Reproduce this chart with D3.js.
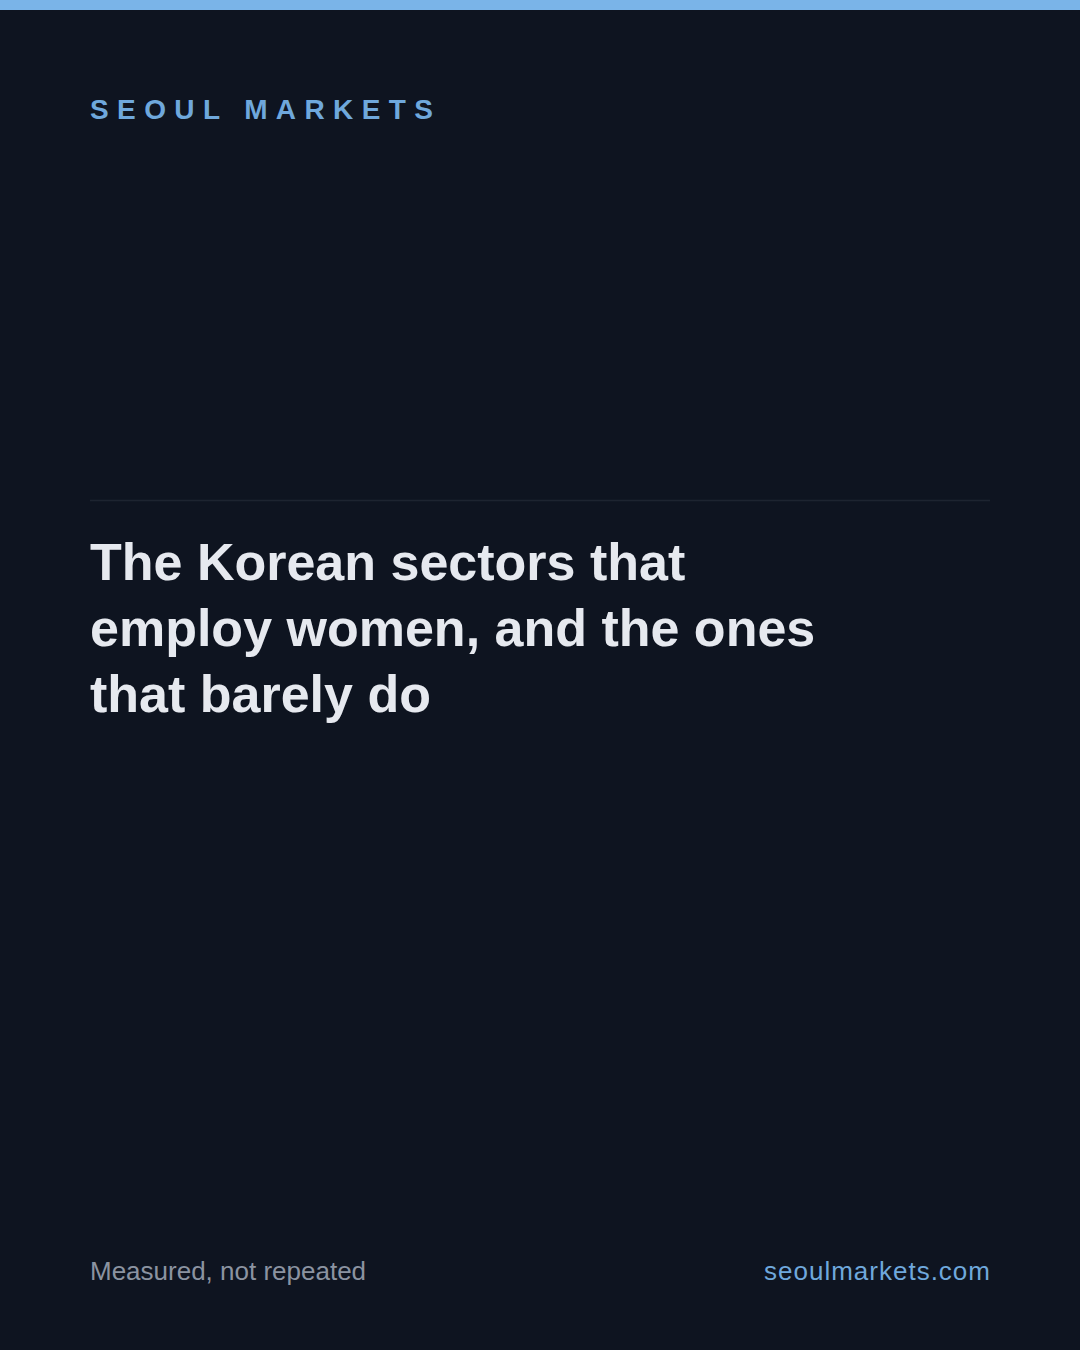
<!DOCTYPE html>
<html>
<head>
<meta charset="utf-8">
<script src="https://cdn.jsdelivr.net/npm/d3@7"></script>
<style>
  html, body { margin: 0; padding: 0; background: #0e1420; }
  svg { display: block; }
</style>
</head>
<body>
<svg width="1080" height="1350"></svg>
<script>
// text content of the card
let brand = "SEOUL MARKETS";
let titleLines = [
    "The Korean sectors that",
    "employ women, and the ones",
    "that barely do"
];
let footerLeft = "Measured, not repeated";
let footerRight = "seoulmarkets.com";

var svg = d3.select("svg"),
width = +svg.attr("width"),
height = +svg.attr("height");

let pad = 90;
let font = "'Liberation Sans', Arial, Helvetica, sans-serif";

svg.append("rect")
    .attr("width", width)
    .attr("height", height)
    .attr("fill", "#0e1420");

// accent bar on top
svg.append("rect")
    .attr("width", width)
    .attr("height", 10)
    .attr("fill", "#7ab4e8");

svg.append("text")
    .attr("x", pad)
    .attr("y", 119)
    .attr("font-family", font)
    .attr("font-size", 28)
    .attr("font-weight", 700)
    .attr("letter-spacing", "8.4px")
    .attr("fill", "#6fa8dc")
    .text(brand);

// thin divider above the title
svg.append("line")
    .attr("x1", pad)
    .attr("x2", width - pad)
    .attr("y1", 500.5)
    .attr("y2", 500.5)
    .attr("stroke", "#1d2430")
    .attr("stroke-width", 1.5);

let lineY = d3.scalePoint()
    .domain(d3.range(titleLines.length))
    .range([580, 712]);

svg.append("g")
    .selectAll("text")
    .data(titleLines)
    .enter()
    .append("text")
    .attr("x", pad)
    .attr("y", (d, i) => lineY(i))
    .attr("font-family", font)
    .attr("font-size", 52)
    .attr("font-weight", 700)
    .attr("fill", "#e6e9ef")
    .text(d => d);

svg.append("text")
    .attr("x", pad)
    .attr("y", 1280)
    .attr("font-family", font)
    .attr("font-size", 26)
    .attr("fill", "#8b93a1")
    .text(footerLeft);

// end anchor: trailing letter-spacing pushes the last glyph in, so nudge x
svg.append("text")
    .attr("x", width - pad + 1)
    .attr("y", 1280)
    .attr("text-anchor", "end")
    .attr("font-family", font)
    .attr("font-size", 26)
    .attr("letter-spacing", "1px")
    .attr("fill", "#6fa8dc")
    .text(footerRight);
</script>
</body>
</html>
